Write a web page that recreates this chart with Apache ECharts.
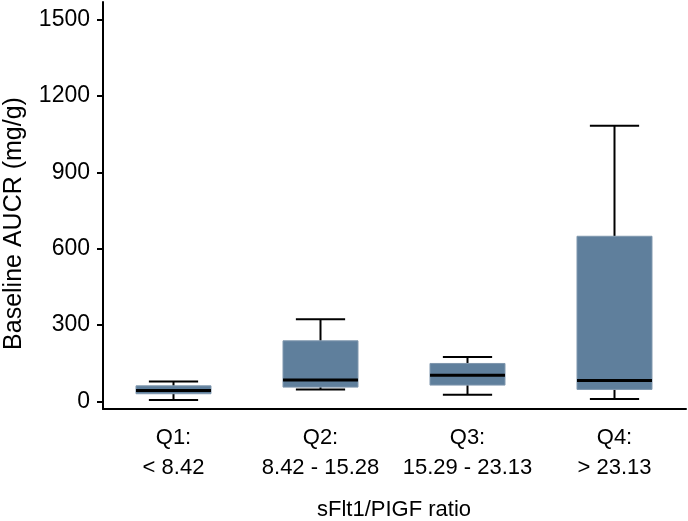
<!DOCTYPE html>
<html>
<head>
<meta charset="utf-8">
<script src="https://cdn.jsdelivr.net/npm/echarts@6/dist/echarts.min.js"></script>
<style>html,body{margin:0;padding:0;background:#fff}#c{width:688px;height:521px}</style>
</head>
<body>
<div id="c"></div>
<script>
const categories = ['Q1:\n< 8.42', 'Q2:\n8.42 - 15.28', 'Q3:\n15.29 - 23.13', 'Q4:\n> 23.13'];
const whiskerLow = [5, 47, 26, 9];
const boxLow = [30, 56, 64, 47];
const median = [43, 84, 103, 82];
const boxHigh = [61, 238, 149, 649];
const whiskerHigh = [78, 323, 174, 1084];
const yTicks = [0, 300, 600, 900, 1200, 1500];

const FONT = '"Liberation Sans", Arial, sans-serif';
const data = categories.map((c, i) => [i, whiskerLow[i], boxLow[i], median[i], boxHigh[i], whiskerHigh[i]]);

const chart = echarts.init(document.getElementById('c'), null, {renderer: 'canvas'});
chart.setOption({
  animation: false,
  grid: [
    {left: 100, right: 0, top: 2, bottom: 112, outerBoundsMode: 'none', containLabel: false},
    {left: 103, right: 2, top: 2, bottom: 112, outerBoundsMode: 'none', containLabel: false}
  ],
  xAxis: [
    {
      type: 'category', gridIndex: 0, data: categories, boundaryGap: true,
      axisLine: {show: false}, axisTick: {show: false},
      axisLabel: {color: '#000', fontFamily: FONT, fontSize: 22, lineHeight: 30, margin: 14, interval: 0},
      name: 'sFlt1/PIGF ratio', nameLocation: 'middle', nameGap: 90,
      nameTextStyle: {color: '#000', fontFamily: FONT, fontSize: 22}
    },
    {
      type: 'value', gridIndex: 1, min: 0, max: 1,
      axisLine: {show: true, onZero: false, lineStyle: {color: '#000', width: 2}},
      axisTick: {show: false}, axisLabel: {show: false}, splitLine: {show: false}
    }
  ],
  yAxis: [
    {
      type: 'value', gridIndex: 0, min: -30, max: 1570,
      axisLine: {show: false}, axisTick: {show: false}, axisLabel: {show: false}, splitLine: {show: false}
    },
    {
      type: 'value', gridIndex: 1, min: -30, max: 1570,
      axisLine: {show: true, onZero: false, lineStyle: {color: '#000', width: 2}},
      axisTick: {show: true, customValues: yTicks, length: 6, lineStyle: {color: '#000', width: 2}},
      axisLabel: {customValues: yTicks, color: '#000', fontFamily: FONT, fontSize: 23, margin: 13,
        formatter: function (v) { return String(v); }},
      splitLine: {show: false},
      name: 'Baseline AUCR (mg/g)', nameLocation: 'middle', nameGap: 76,
      nameTextStyle: {color: '#000', fontFamily: FONT, fontSize: 25, padding: [0, 36, 0, 0]}
    }
  ],
  series: [{
    type: 'custom',
    xAxisIndex: 0, yAxisIndex: 0,
    data: data,
    encode: {x: 0, y: [1, 2, 3, 4, 5]},
    renderItem: function (params, api) {
      const idx = api.value(0);
      const band = api.size([1, 0])[0];
      const bw = band * 0.51;
      const cw = band * 0.335;
      const pLow = api.coord([idx, api.value(1)]);
      const pQ1 = api.coord([idx, api.value(2)]);
      const pMed = api.coord([idx, api.value(3)]);
      const pQ3 = api.coord([idx, api.value(4)]);
      const pHigh = api.coord([idx, api.value(5)]);
      const x = pMed[0];
      const ls = {stroke: '#000', lineWidth: 2};
      return {
        type: 'group',
        children: [
          {type: 'line', shape: {x1: x, y1: pHigh[1], x2: x, y2: pQ3[1]}, style: ls},
          {type: 'line', shape: {x1: x, y1: pLow[1], x2: x, y2: pQ1[1]}, style: ls},
          {type: 'line', shape: {x1: x - cw / 2, y1: pHigh[1], x2: x + cw / 2, y2: pHigh[1]}, style: ls},
          {type: 'line', shape: {x1: x - cw / 2, y1: pLow[1], x2: x + cw / 2, y2: pLow[1]}, style: ls},
          {type: 'rect', shape: {x: x - bw / 2, y: pQ3[1], width: bw, height: pQ1[1] - pQ3[1]},
            style: {fill: '#5f7f9c', stroke: '#7f97ae', lineWidth: 1}},
          {type: 'line', shape: {x1: x - bw / 2, y1: pMed[1], x2: x + bw / 2, y2: pMed[1]},
            style: {stroke: '#000', lineWidth: 3}}
        ]
      };
    }
  }]
});
</script>
</body>
</html>
